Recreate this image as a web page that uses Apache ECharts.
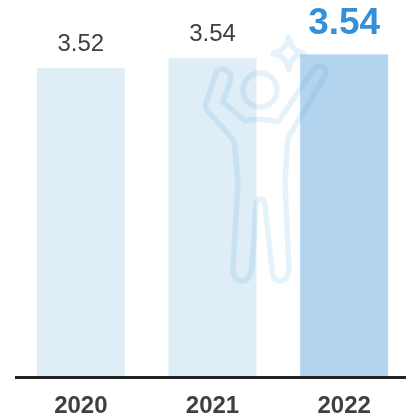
<!DOCTYPE html>
<html>
<head>
<meta charset="utf-8">
<style>html,body{margin:0;padding:0;background:#fff}#c{width:406px;height:418px}</style>
<script src="https://cdn.jsdelivr.net/npm/echarts@6/dist/echarts.min.js"></script>
</head>
<body>
<div id="c"></div>
<script>
const categories = ['2020', '2021', '2022'];
const values = [3.52, 3.536, 3.542];
const barColors = ['#dfedf6', '#dfedf6', '#b3d4ef'];
const labelColors = ['#404040', '#404040', '#3490d8'];
const labelSizes = [24, 24, 37];
const labelWeights = ['normal', 'normal', 'bold'];
const labelGaps = [12, 12, 12];

const personPath = 'M222 69 Q229 70 231 76 Q231 80 230 82 L223 102 L245 121 Q260 117 278 122 L313 70 Q318 64 323 67 Q328 71 325 76 L292 131 Q287 137 287 150 L285 183 L289 268 Q288 281 280 281 Q273 281 272 270 L265 205 Q264 199 260 199 Q257 199 256 205 L252 267 Q250 281 242 281 Q233 281 233 267 L238 183 L235 150 Q235 141 230 136 L207 110 Q204 105 207 100 L215 76 Q217 69 222 69 Z';
const starPath = 'M288.5 37 Q290 50 304 53.5 Q290 56 288.5 70 Q287 56 273 53.5 Q287 50 288.5 37 Z';
const iconColor = 'rgba(52,144,216,0.12)';
const iconStyle = {fill: 'none', stroke: iconColor, lineWidth: 5.5, lineJoin: 'round'};

const chart = echarts.init(document.getElementById('c'), null, {renderer: 'canvas'});
chart.setOption({
  animation: false,
  backgroundColor: '#fff',
  grid: {left: 15, top: 0, width: 395, height: 377.5, outerBoundsMode: 'none'},
  xAxis: {
    type: 'category',
    z: 5,
    data: categories,
    axisLine: {lineStyle: {color: '#222222', width: 3, cap: 'butt'}},
    axisTick: {show: false},
    axisLabel: {
      color: '#404040', fontFamily: 'Liberation Sans', fontWeight: 'bold',
      fontSize: 24, margin: 17
    }
  },
  yAxis: {type: 'value', min: 3.025, max: 3.629, show: false, splitLine: {show: false}},
  series: [{
    type: 'bar',
    barWidth: 88,
    data: values.map((v, i) => ({
      value: v,
      itemStyle: {color: barColors[i]},
      label: {
        show: true, position: 'top', distance: labelGaps[i],
        formatter: v.toFixed(2), color: labelColors[i],
        fontSize: labelSizes[i], fontWeight: labelWeights[i],
        fontFamily: 'Liberation Sans'
      }
    }))
  }, {
    type: 'custom',
    z: 10,
    silent: true,
    clip: false,
    data: [0],
    renderItem: function () {
      return {
        type: 'group',
        children: [
          {type: 'path', shape: {pathData: personPath}, style: iconStyle},
          {type: 'circle', shape: {cx: 260, cy: 90, r: 17}, style: iconStyle},
          {type: 'path', shape: {pathData: starPath}, style: iconStyle}
        ]
      };
    }
  }]
});
</script>
</body>
</html>
